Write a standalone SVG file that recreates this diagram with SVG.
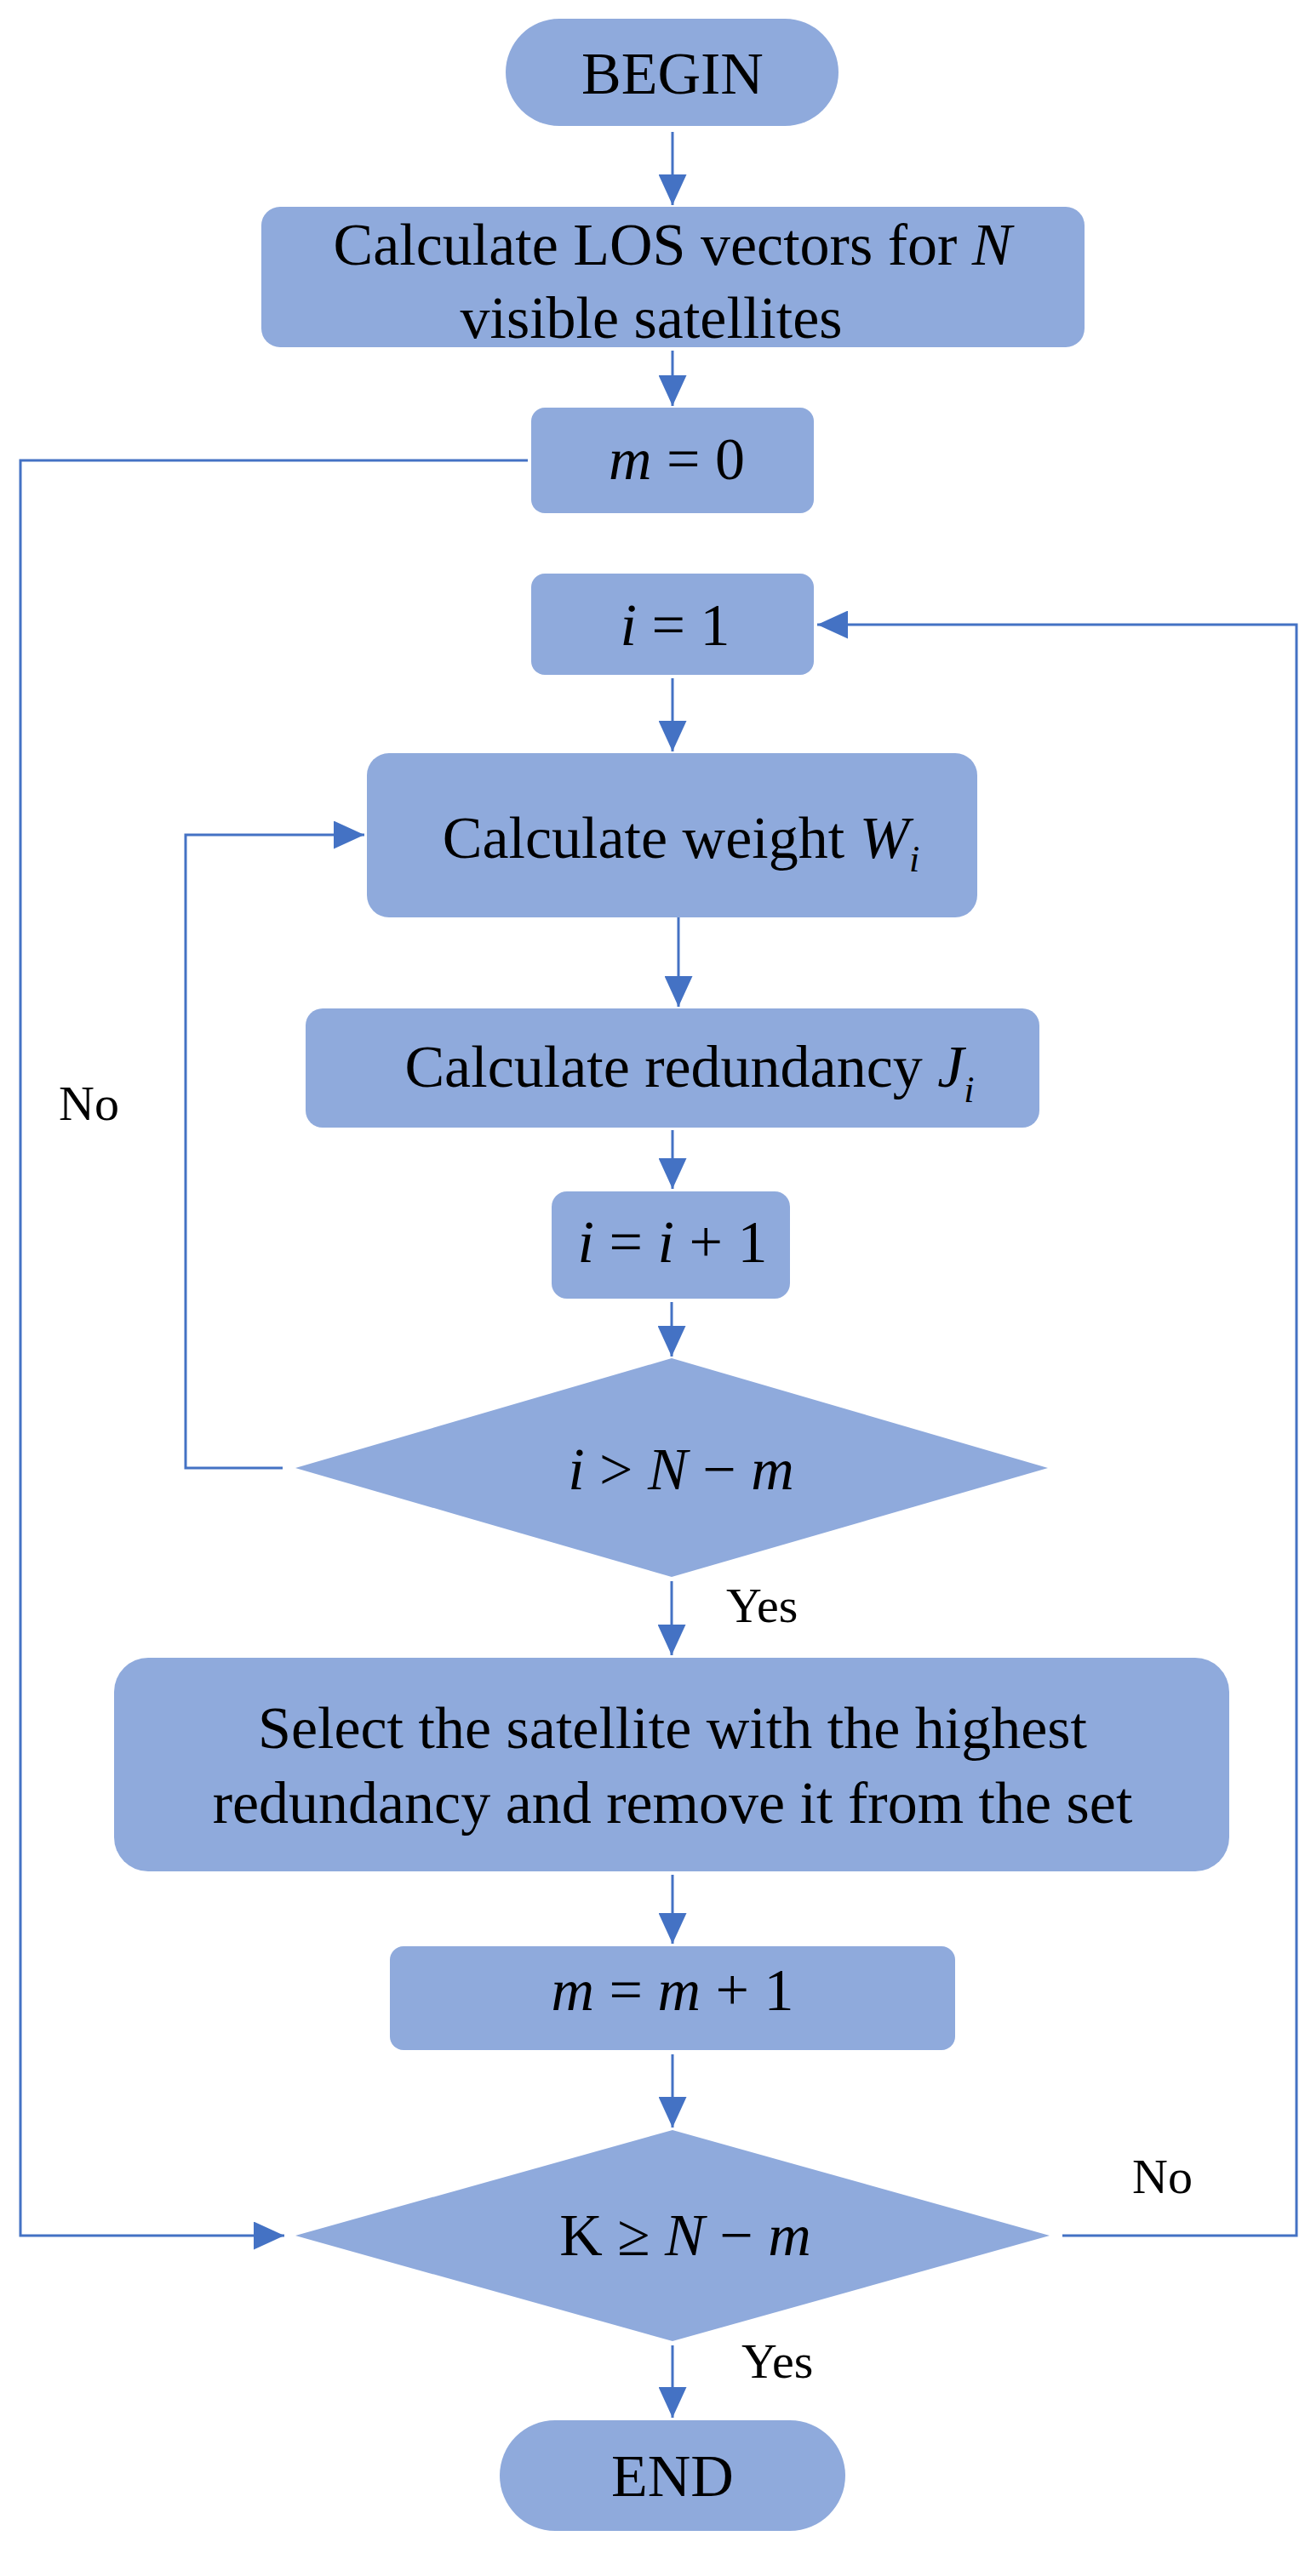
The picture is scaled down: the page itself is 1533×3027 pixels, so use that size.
<svg xmlns="http://www.w3.org/2000/svg" width="1533" height="3027" viewBox="0 0 1533 3027">
<style>
.n{fill:#8FAADC}
.t{font-family:"Liberation Serif","Times New Roman",serif;font-size:70px;fill:#000;text-anchor:middle}
.l{font-family:"Liberation Serif","Times New Roman",serif;font-size:58px;fill:#000}
.c{fill:none;stroke:#4472C4;stroke-width:3}
i,.i{font-style:italic}
</style>
<defs>
<marker id="a" markerWidth="12" markerHeight="11" refX="12" refY="5.5" orient="auto" markerUnits="strokeWidth">
<path d="M0,0 L12,5.5 L0,11 z" fill="#4472C4"/>
</marker>
</defs>
<rect width="1533" height="3027" fill="#fff"/>
<g id="connectors">
<path class="c" marker-end="url(#a)" d="M790,155 V241"/>
<path class="c" marker-end="url(#a)" d="M790,412 V477"/>
<path class="c" marker-end="url(#a)" d="M790,797 V883"/>
<path class="c" marker-end="url(#a)" d="M797,1078 V1183"/>
<path class="c" marker-end="url(#a)" d="M790,1328 V1397"/>
<path class="c" marker-end="url(#a)" d="M789,1530 V1594"/>
<path class="c" marker-end="url(#a)" d="M789,1858 V1945"/>
<path class="c" marker-end="url(#a)" d="M790,2203 V2284"/>
<path class="c" marker-end="url(#a)" d="M790,2414 V2500"/>
<path class="c" marker-end="url(#a)" d="M790,2756 V2841"/>
<path class="c" marker-end="url(#a)" d="M332,1725 H218 V981 H428"/>
<path class="c" marker-end="url(#a)" d="M620,541 H24 V2627 H334"/>
<path class="c" marker-end="url(#a)" d="M1248,2627 H1523 V734 H960"/>
</g>
<g id="begin"><rect class="n" x="594" y="22" width="391" height="126" rx="63"/><text class="t" x="790" y="110">BEGIN</text></g>
<g id="los"><rect class="n" x="307" y="243" width="967" height="165" rx="22"/><text class="t" x="790" y="311">Calculate LOS vectors for <tspan class="i">N</tspan></text><text class="t" x="765" y="397">visible satellites</text></g>
<g id="m0"><rect class="n" x="624" y="479" width="332" height="124" rx="16"/><text class="t" x="795" y="563"><tspan class="i">m</tspan> = 0</text></g>
<g id="i1"><rect class="n" x="624" y="674" width="332" height="119" rx="16"/><text class="t" x="793" y="758"><tspan class="i">i</tspan> = 1</text></g>
<g id="weight"><rect class="n" x="431" y="885" width="717" height="193" rx="26"/><text class="t" x="800" y="1008">Calculate weight <tspan class="i">W</tspan><tspan class="i" font-size="44" dy="16">i</tspan></text></g>
<g id="redundancy"><rect class="n" x="359" y="1185" width="862" height="140" rx="20"/><text class="t" x="810" y="1277">Calculate redundancy <tspan class="i">J</tspan><tspan class="i" font-size="44" dy="18">i</tspan></text></g>
<g id="inc"><rect class="n" x="648" y="1400" width="280" height="126" rx="18"/><text class="t" x="790" y="1483"><tspan class="i">i</tspan> = <tspan class="i">i</tspan> + 1</text></g>
<g id="d1"><polygon class="n" points="789,1596 1231,1725 789,1853 347,1725"/><text class="t" x="800" y="1750"><tspan class="i">i</tspan> &gt; <tspan class="i">N</tspan> − <tspan class="i">m</tspan></text></g>
<text class="l" x="853" y="1906">Yes</text>
<text class="l" x="69" y="1316">No</text>
<g id="select"><rect class="n" x="134" y="1948" width="1310" height="251" rx="40"/><text class="t" x="790" y="2054">Select the satellite with the highest</text><text class="t" x="790" y="2142">redundancy and remove it from the set</text></g>
<g id="minc"><rect class="n" x="458" y="2287" width="664" height="122" rx="16"/><text class="t" x="790" y="2362"><tspan class="i">m</tspan> = <tspan class="i">m</tspan> + 1</text></g>
<g id="d2"><polygon class="n" points="790,2503 1233,2627 790,2751 347,2627"/><text class="t" x="805" y="2650">K ≥ <tspan class="i">N</tspan> − <tspan class="i">m</tspan></text></g>
<text class="l" x="1330" y="2577">No</text>
<text class="l" x="871" y="2794">Yes</text>
<g id="end"><rect class="n" x="587" y="2844" width="406" height="130" rx="65"/><text class="t" x="790" y="2933">END</text></g>
</svg>
